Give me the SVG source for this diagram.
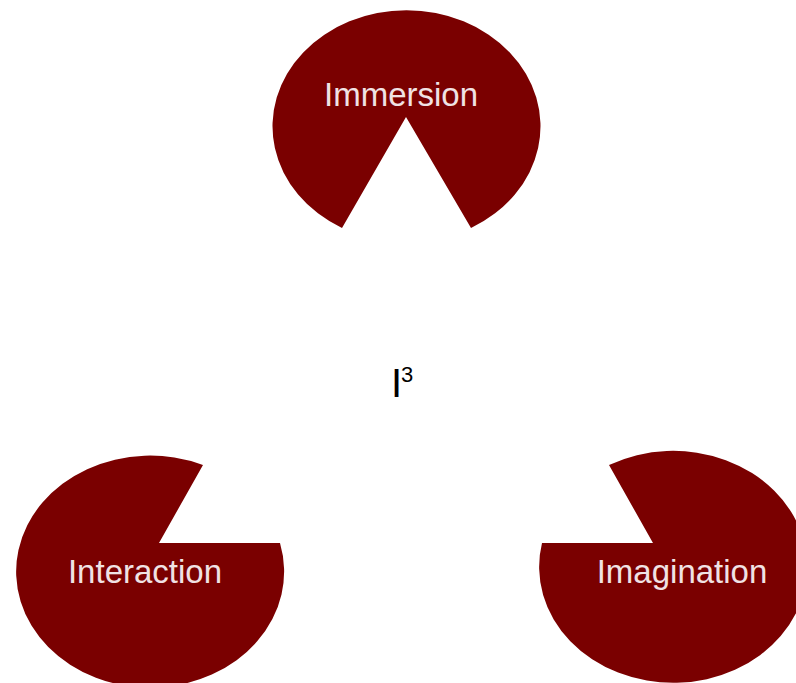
<svg xmlns="http://www.w3.org/2000/svg" width="796" height="683" viewBox="0 0 796 683">
<style>
.pac{fill:#7a0000;}
.lbl{font-family:"Liberation Sans",Arial,sans-serif;font-size:33px;fill:#f0e2e4;text-anchor:middle;}
.ctr{font-family:"Liberation Sans",Arial,sans-serif;fill:#000;}
</style>
<rect width="796" height="683" fill="#fff"/>
<g id="immersion">
<path class="pac" d="M406,117 L342,228 A134,116 0 1 1 471,228 Z"/>
<text class="lbl" x="401" y="106">Immersion</text>
</g>
<g id="interaction">
<path class="pac" d="M159,543 L280,543 A134,116 0 1 1 203,465 Z"/>
<text class="lbl" x="145" y="583">Interaction</text>
</g>
<g id="imagination">
<path class="pac" d="M653,543 L609,465 A134,116 0 1 1 542,543 Z"/>
<text class="lbl" x="682" y="583">Imagination</text>
</g>
<g id="center">
<text class="ctr" x="391" y="397" font-size="40">I</text>
<text class="ctr" x="401" y="382" font-size="22">3</text>
</g>
<g id="connectors"></g>
</svg>
